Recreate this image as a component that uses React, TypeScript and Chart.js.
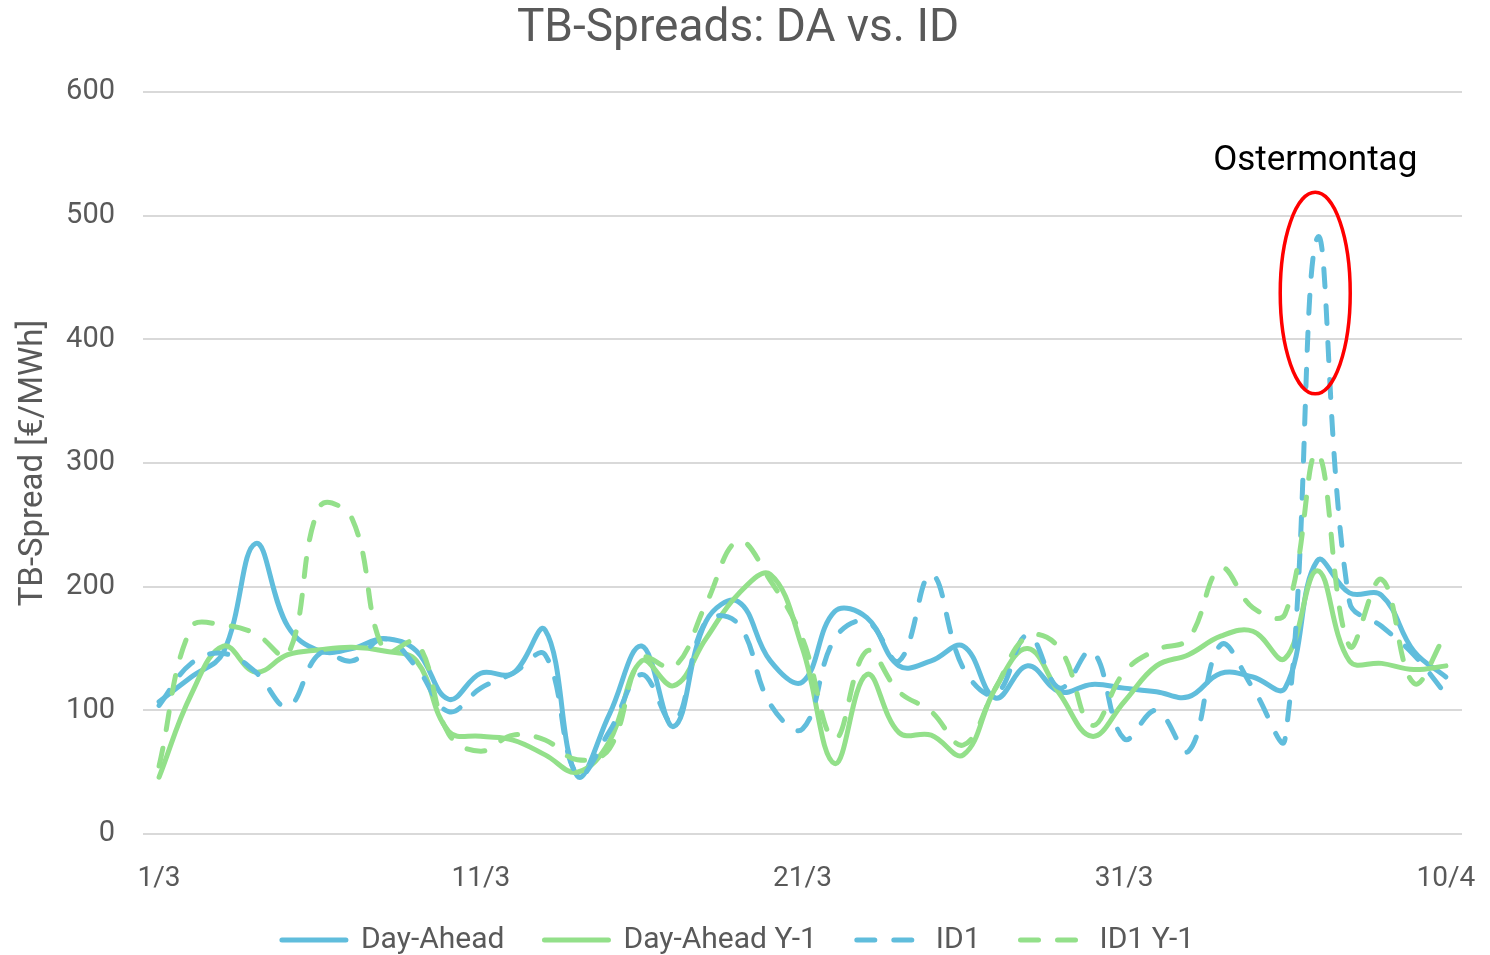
import React, { useEffect, useRef } from "react";
import { Chart, registerables } from "chart.js";

Chart.register(...registerables);

const labels = [
  "1/3", "2/3", "3/3", "4/3", "5/3", "6/3", "7/3", "8/3", "9/3", "10/3",
  "11/3", "12/3", "13/3", "14/3", "15/3", "16/3", "17/3", "18/3", "19/3", "20/3",
  "21/3", "22/3", "23/3", "24/3", "25/3", "26/3", "27/3", "28/3", "29/3", "30/3",
  "31/3", "1/4", "2/4", "3/4", "4/4", "5/4", "6/4", "7/4", "8/4", "9/4", "10/4",
];

const dayAhead = [
  107, 127, 147, 235, 168, 148, 150, 158, 148, 109,
  130, 130, 165, 47, 97, 152, 87, 172, 188, 140,
  123, 180, 175, 136, 140, 152, 110, 136, 115, 121,
  118, 115, 111, 130, 127, 118, 221, 195, 193, 148, 127,
];

const dayAheadY1 = [
  46, 113, 152, 131, 145, 149, 151, 148, 140, 83,
  79, 76, 64, 50, 75, 140, 120, 158, 194, 210,
  150, 57, 129, 82, 80, 64, 118, 150, 113, 79,
  107, 136, 145, 160, 164, 142, 213, 140, 138, 133, 136,
];

const id1 = [
  104, 138, 146, 131, 103, 146, 140, 158, 135, 99,
  118, 130, 145, 48, 83, 129, 90, 172, 170, 105,
  85, 158, 172, 140, 210, 134, 113, 161, 118, 148,
  77, 100, 67, 153, 118, 77, 482, 188, 168, 145, 113,
];

const id1Y1 = [
  55, 167, 169, 162, 145, 265, 255, 148, 155, 81,
  67, 80, 76, 60, 69, 142, 135, 186, 237, 205,
  158, 77, 148, 115, 99, 72, 118, 160, 150, 88,
  131, 149, 158, 215, 183, 178, 308, 152, 206, 122, 162,
];

const seriesNames = ["Day-Ahead", "Day-Ahead Y-1", "ID1", "ID1 Y-1"];
const titleText = "TB-Spreads: DA vs. ID";
const yAxisTitle = "TB-Spread [€/MWh]";
const tickEvery = 10;

const annotationLabel = "Ostermontag";
const annotationIndex = 36;
const annotationTop = 519;
const annotationBottom = 356;
const annotationTextValue = 544;

const BLUE = "#60BDDC";
const GREEN = "#93E08A";
const GRAY = "#595959";
const FONT = "Roboto";
const DASH = [18, 19];

const annotationPlugin = {
  id: "ostermontag",
  afterLayout(chart: any) {
    // let the x tick labels extend below the axis box so they are not clipped
    const xs = chart.scales.x;
    xs.bottom = xs.top + 75;
    xs.height = 75;
  },
  afterDatasetsDraw(chart: any) {
    const { ctx, scales } = chart;
    const x = scales.x;
    const y = scales.y;
    const cx = x.getPixelForValue(annotationIndex) - 2;
    const top = y.getPixelForValue(annotationTop);
    const bottom = y.getPixelForValue(annotationBottom);
    ctx.save();
    ctx.beginPath();
    ctx.ellipse(cx, (top + bottom) / 2, 35, (bottom - top) / 2, 0, 0, Math.PI * 2);
    ctx.strokeStyle = "#FF0000";
    ctx.lineWidth = 3.5;
    ctx.stroke();
    ctx.font = `35px ${FONT}`;
    ctx.fillStyle = "#000000";
    ctx.textAlign = "center";
    ctx.textBaseline = "middle";
    ctx.fillText(annotationLabel, cx, y.getPixelForValue(annotationTextValue));
    ctx.restore();
  },
};

export default function App() {
  const canvasRef = useRef<HTMLCanvasElement | null>(null);

  useEffect(() => {
    if (!canvasRef.current) return;
    Chart.defaults.font.family = FONT;
    const common = {
      fill: false,
      pointRadius: 0,
      pointHoverRadius: 0,
      borderWidth: 5,
      borderCapStyle: "round" as const,
      borderJoinStyle: "round" as const,
      tension: 0.4,
    };
    const chart = new Chart(canvasRef.current, {
      type: "line",
      data: {
        labels,
        datasets: [
          { ...common, label: seriesNames[0], data: dayAhead, borderColor: BLUE, backgroundColor: BLUE, order: 4 },
          { ...common, label: seriesNames[1], data: dayAheadY1, borderColor: GREEN, backgroundColor: GREEN, order: 3 },
          { ...common, label: seriesNames[2], data: id1, borderColor: BLUE, backgroundColor: BLUE, borderDash: DASH, order: 2 },
          { ...common, label: seriesNames[3], data: id1Y1, borderColor: GREEN, backgroundColor: GREEN, borderDash: DASH, order: 1 },
        ],
      },
      options: {
        responsive: false,
        animation: false,
        layout: { padding: { left: 14, right: 28, top: 0, bottom: -10 } },
        plugins: {
          title: {
            display: true,
            text: titleText,
            color: GRAY,
            font: { size: 46, weight: "normal", family: FONT },
            padding: { top: 2, bottom: 35 },
          },
          legend: {
            position: "bottom",
            labels: {
              usePointStyle: true,
              pointStyle: "line",
              pointStyleWidth: 64,
              color: GRAY,
              font: { size: 30, family: FONT },
              padding: 40,
              sort: (a: any, b: any) => a.datasetIndex - b.datasetIndex,
              generateLabels: (c: any) => {
                const items = (Chart as any).defaults.plugins.legend.labels.generateLabels(c);
                items.forEach((it: any) => {
                  const ds = c.data.datasets[it.datasetIndex];
                  it.lineDash = ds.borderDash || [];
                  it.lineWidth = 5;
                  it.lineCap = "round";
                  it.strokeStyle = ds.borderColor;
                  it.fillStyle = ds.borderColor;
                  it.pointStyle = "line";
                });
                return items;
              },
            },
          },
          tooltip: { enabled: false },
        },
        scales: {
          x: {
            type: "category",
            offset: true,
            grid: { display: false, drawTicks: false },
            border: { display: false },
            ticks: {
              autoSkip: false,
              maxRotation: 0,
              minRotation: 0,
              padding: 28,
              color: GRAY,
              font: { size: 28, family: FONT },
              callback: (_v: any, i: number) => (i % tickEvery === 0 ? labels[i] : ""),
            },
            afterFit: (scale: any) => {
              scale.height = 51;
              scale.paddingLeft = 0;
              scale.paddingRight = 0;
            },
          },
          y: {
            min: 0,
            max: 600,
            grid: { color: "#D9D9D9", lineWidth: 2, drawTicks: false },
            border: { display: false },
            ticks: {
              stepSize: 100,
              padding: 28,
              color: GRAY,
              font: { size: 29, family: FONT },
            },
            title: {
              display: true,
              text: yAxisTitle,
              color: GRAY,
              font: { size: 33, family: FONT },
              padding: { top: 0, bottom: 0 },
            },
            afterFit: (scale: any) => {
              scale.width = 129;
            },
          },
        },
      },
      plugins: [annotationPlugin],
    } as any);
    return () => chart.destroy();
  }, []);

  return (
    <div style={{ position: "fixed", left: 0, top: 0, width: 1490, height: 955, background: "#ffffff" }}>
      <canvas ref={canvasRef} width={1490} height={955} style={{ display: "block" }} />
    </div>
  );
}
